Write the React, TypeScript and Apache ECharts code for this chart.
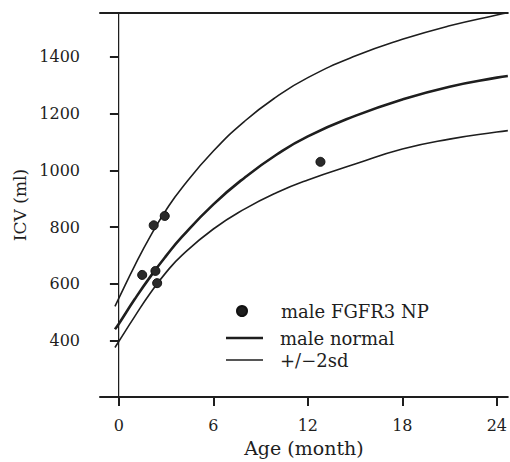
import React, { useEffect, useRef } from "react";
import * as echarts from "echarts";

const months = [-0.25, 0, 1, 2, 3, 4, 6, 8, 10, 12, 15, 18, 21, 24, 24.7];
const upper = [520, 549, 663, 768, 860, 938, 1068, 1174, 1259, 1327, 1403, 1462, 1510, 1548, 1556];
const middle = [439, 459, 545, 625, 698, 765, 880, 975, 1055, 1120, 1192, 1250, 1295, 1327, 1333];
const lower = [375, 397, 484, 567, 640, 700, 793, 864, 921, 966, 1022, 1075, 1110, 1135, 1140];

const npMonths = [1.48, 2.21, 2.91, 2.32, 2.43, 12.8];
const npValues = [631, 806, 839, 645, 602, 1030];

const xTicks = [0, 6, 12, 18, 24];
const yTicks = [400, 600, 800, 1000, 1200, 1400];

const FONT = "DejaVu Serif";
const INK = "#1e1e1e";

export default function App() {
  const ref = useRef<HTMLDivElement>(null);
  useEffect(() => {
    const chart = echarts.init(ref.current!, null, { renderer: "svg" });
    const zip = (xs: number[], ys: number[]) => xs.map((x, i) => [x, ys[i]]);
    chart.setOption({
      animation: false,
      backgroundColor: "#ffffff",
      grid: { left: 100, right: 1, top: 13, bottom: 61 },
      xAxis: [
        {
          type: "value",
          min: -1.2,
          max: 24.7,
          name: "Age (month)",
          nameLocation: "middle",
          nameGap: 38,
          nameTextStyle: { fontFamily: FONT, fontSize: 19, color: INK },
          axisLine: { show: true, lineStyle: { color: INK, width: 2 } },
          axisTick: { show: true, inside: false, length: 9, lineStyle: { color: INK, width: 2 }, customValues: xTicks },
          axisLabel: { show: true, margin: 20, fontFamily: FONT, fontSize: 16, color: INK, customValues: xTicks, formatter: (v: number) => String(v) },
          splitLine: { show: false },
        },
        {
          type: "value",
          position: "top",
          min: -1.2,
          max: 24.7,
          axisLine: { show: true, lineStyle: { color: INK, width: 2 } },
          axisTick: { show: false },
          axisLabel: { show: false },
          splitLine: { show: false },
        },
      ],
      yAxis: [
        {
          type: "value",
          min: 200,
          max: 1555,
          name: "ICV (ml)",
          nameLocation: "middle",
          nameGap: 66,
          nameTextStyle: { fontFamily: FONT, fontSize: 17, color: INK },
          axisLine: { show: true, lineStyle: { color: INK, width: 2 } },
          axisTick: { show: true, inside: false, length: 9, lineStyle: { color: INK, width: 2 }, customValues: yTicks },
          axisLabel: { show: true, margin: 20, fontFamily: FONT, fontSize: 16, color: INK, customValues: yTicks, formatter: (v: number) => String(v) },
          splitLine: { show: false },
        },
        {
          type: "value",
          position: "right",
          min: 200,
          max: 1555,
          axisLine: { show: true, lineStyle: { color: "#c8c8c8", width: 1 } },
          axisTick: { show: false },
          axisLabel: { show: false },
          splitLine: { show: false },
        },
      ],
      legend: [
        {
          data: ["male FGFR3 NP"],
          left: 236,
          top: 302,
          padding: 0,
          itemWidth: 10,
          itemHeight: 10,
          itemStyle: { opacity: 1, color: "#1e1e1e" },
          textStyle: { fontFamily: FONT, fontSize: 18, color: INK, padding: [0, 0, 0, 29], lineHeight: 18 },
        },
        {
          data: [{ name: "male normal", icon: "rect" }],
          left: 226,
          top: 329,
          padding: 0,
          itemWidth: 37,
          itemHeight: 2.6,
          itemStyle: { color: INK },
          textStyle: { fontFamily: FONT, fontSize: 18, color: INK, padding: [0, 0, 0, 12], lineHeight: 18 },
        },
        {
          data: [{ name: "+/−2sd", icon: "rect" }],
          left: 226,
          top: 351,
          padding: 0,
          itemWidth: 37,
          itemHeight: 1.6,
          itemStyle: { color: INK },
          textStyle: { fontFamily: FONT, fontSize: 18, color: INK, padding: [0, 0, 0, 12], lineHeight: 18 },
        },
      ],
      series: [
        {
          name: "+/−2sd",
          type: "line",
          smooth: true,
          symbol: "none",
          data: zip(months, upper),
          lineStyle: { color: INK, width: 1.6 },
          itemStyle: { color: INK },
        },
        {
          name: "+/−2sd",
          type: "line",
          smooth: true,
          symbol: "none",
          data: zip(months, lower),
          lineStyle: { color: INK, width: 1.6 },
          itemStyle: { color: INK },
        },
        {
          name: "male normal",
          type: "line",
          smooth: true,
          symbol: "none",
          data: zip(months, middle),
          lineStyle: { color: INK, width: 2.6 },
          itemStyle: { color: INK },
        },
        {
          name: "male FGFR3 NP",
          type: "scatter",
          symbol: "circle",
          symbolSize: 9,
          data: zip(npMonths, npValues),
          itemStyle: { color: "#2a2a2a", borderColor: "#111", borderWidth: 1, opacity: 1 },
          z: 5,
        },
      ],
    });
    return () => chart.dispose();
  }, []);
  return (
    <div
      ref={ref}
      style={{ position: "absolute", left: 0, top: 0, width: 510, height: 462 }}
    />
  );
}
